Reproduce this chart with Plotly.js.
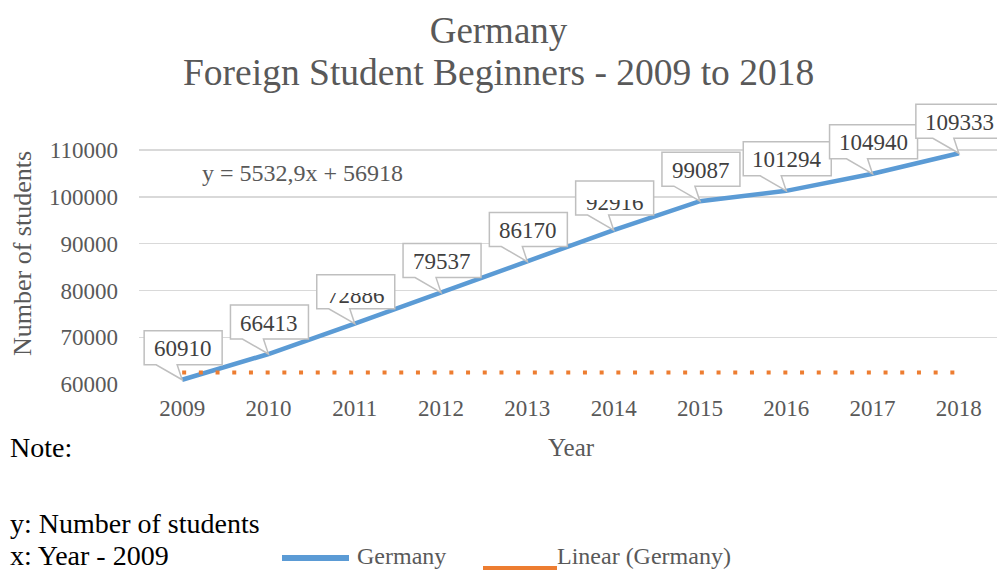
<!DOCTYPE html>
<html>
<head>
<meta charset="utf-8">
<script src="https://cdn.plot.ly/plotly-3.0.1.min.js"></script>
<style>html,body{margin:0;padding:0;background:#fff;}</style>
</head>
<body>
<div id="chart" style="width:997px;height:572px;"></div>
<script>
// ---- data ----
const years = [2009, 2010, 2011, 2012, 2013, 2014, 2015, 2016, 2017, 2018];
const students = [60910, 66413, 72886, 79537, 86170, 92916, 99087, 101294, 104940, 109333];
const trendValues = [62451, 62451, 62451, 62451, 62451, 62451, 62451, 62451, 62451, 62451];
const yTickValues = [60000, 70000, 80000, 90000, 100000, 110000];
const seriesName = 'Germany';
const trendName = 'Linear (Germany)';
const equationText = 'y = 5532,9x + 56918';
const titleLines = ['Germany', 'Foreign Student Beginners - 2009 to 2018'];
const xTitle = 'Year';
const yTitle = 'Number of students';
const noteLines = ['Note:', 'y: Number of students', 'x: Year - 2009'];
// labels whose text is drawn clipped at the top in the reference
const clippedLabels = [72886, 92916];

// ---- style ----
const FONT = '"Liberation Serif", "Times New Roman", "DejaVu Serif", serif';
const GRAY = '#595959';
const LABEL = '#404040';
const BLUE = '#5B9BD5';
const ORANGE = '#ED7D31';

const traces = [
  {
    x: years, y: students, name: seriesName, type: 'scatter', mode: 'lines',
    line: {color: BLUE, width: 4.5}, hoverinfo: 'skip'
  },
  {
    x: years, y: trendValues, name: trendName, type: 'scatter', mode: 'lines',
    line: {color: ORANGE, width: 4, dash: '4px,12.7px'}, hoverinfo: 'skip'
  }
];

const shapes = [];
const annotations = [];
const masks = [];

// callout boxes for data labels
years.forEach((yr, i) => {
  const txt = String(students[i]);
  const hw = txt.length >= 6 ? 44 : 39;
  const L = -hw + 1, R = hw + 1, T = 49, B = 15;
  shapes.push({
    type: 'path', xref: 'x', yref: 'y', xsizemode: 'pixel', ysizemode: 'pixel',
    xanchor: yr, yanchor: students[i],
    path: `M${L},${T} L${R},${T} L${R},${B} L-5,${B} L0,0 L-26,${B} L${L},${B} Z`,
    fillcolor: '#ffffff', line: {color: '#BFBFBF', width: 1.5}, layer: 'above'
  });
  const clipped = clippedLabels.indexOf(students[i]) >= 0;
  annotations.push({
    x: yr, y: students[i], xref: 'x', yref: 'y', text: txt, showarrow: false,
    xshift: 1, yshift: clipped ? 28 : 31, font: {family: FONT, size: 23, color: LABEL}
  });
  if (clipped) {
    masks.push({
      x: yr, y: students[i], xref: 'x', yref: 'y', text: '\u00a0', showarrow: false,
      xshift: 1, yshift: 34, width: 72, height: 7, borderpad: 0, borderwidth: 0,
      bgcolor: '#ffffff', font: {family: FONT, size: 4, color: '#ffffff'}
    });
  }
});

function pxText(text, xs, ys, size, color, anchor, angle) {
  return {
    x: 0, y: 0, xref: 'paper', yref: 'paper', text: text, showarrow: false,
    xanchor: anchor || 'center', yanchor: 'middle', xshift: xs, yshift: ys,
    textangle: angle || 0, font: {family: FONT, size: size, color: color}
  };
}

// equation, axis titles, second title line
annotations.push(pxText(equationText, 163.5, 211, 24, GRAY));
annotations.push(pxText(yTitle, -117, 130, 26, GRAY, 'center', -90));
annotations.push(pxText(xTitle, 432, -63, 25, GRAY));
annotations.push(pxText(titleLines[1], 359.5, 312, 37.5, GRAY));
// notes
annotations.push(pxText(noteLines[0], -131, -63, 28, '#000', 'left'));
annotations.push(pxText(noteLines[1], -131, -139, 28, '#000', 'left'));
annotations.push(pxText(noteLines[2], -131, -171, 28, '#000', 'left'));
// legend
shapes.push({type: 'line', xref: 'paper', yref: 'paper', xsizemode: 'pixel', ysizemode: 'pixel',
  xanchor: 0, yanchor: 0, x0: 143, x1: 210, y0: -174, y1: -174, line: {color: BLUE, width: 6}});
shapes.push({type: 'line', xref: 'paper', yref: 'paper', xsizemode: 'pixel', ysizemode: 'pixel',
  xanchor: 0, yanchor: 0, x0: 344, x1: 418, y0: -184, y1: -184, line: {color: ORANGE, width: 4}});
annotations.push(pxText(seriesName, 216, -172, 24, GRAY, 'left'));
annotations.push(pxText(trendName, 416, -172, 24, GRAY, 'left'));

const layout = {
  width: 997, height: 572, autosize: false,
  margin: {l: 139, r: 0, t: 94, b: 188, pad: 0},
  paper_bgcolor: '#ffffff', plot_bgcolor: 'rgba(0,0,0,0)',
  showlegend: false,
  font: {family: FONT, color: GRAY},
  title: {
    text: titleLines[0], x: 0.5, xref: 'container', xanchor: 'center',
    y: 1 - 30 / 572, yref: 'container', yanchor: 'middle',
    font: {family: FONT, size: 37, color: GRAY}
  },
  xaxis: {
    range: [2008.5, 2018.442], tickvals: years, ticktext: years.map(String),
    showgrid: false, zeroline: false, showline: false, ticks: '',
    ticklabelstandoff: 8,
    tickfont: {family: FONT, size: 23, color: GRAY}, fixedrange: true
  },
  yaxis: {
    range: [60000, 122000], tickvals: yTickValues, ticktext: yTickValues.map(String),
    showgrid: true, gridcolor: '#D9D9D9', gridwidth: 1.3, zeroline: false, showline: false,
    ticks: '', ticklabelstandoff: 20,
    tickfont: {family: FONT, size: 23, color: GRAY}, fixedrange: true
  },
  shapes: shapes,
  annotations: annotations.concat(masks)
};

Plotly.newPlot('chart', traces, layout, {displayModeBar: false, staticPlot: true});
</script>
</body>
</html>
